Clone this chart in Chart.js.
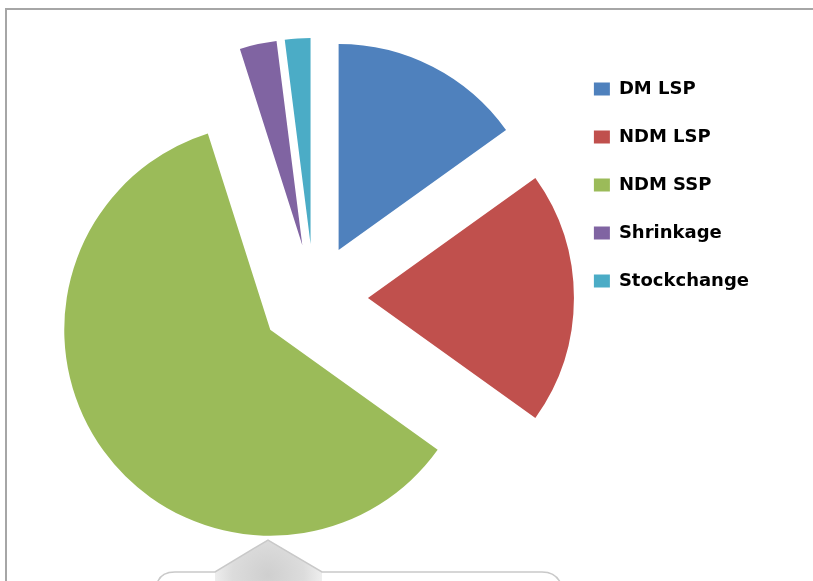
<!DOCTYPE html>
<html>
<head>
<meta charset="utf-8">
<script src="https://cdn.jsdelivr.net/npm/chart.js@4/dist/chart.umd.min.js"></script>
<style>
  html, body { margin: 0; padding: 0; background: #fff; overflow: hidden; }
  #wrap { position: relative; width: 813px; height: 581px; }
  #frame {
    position: absolute; left: 5px; top: 8px; width: 900px; height: 700px;
    border: 2px solid #a6a6a6; box-sizing: border-box;
  }
  #chart { position: absolute; left: 0; top: 0; }
  #callout { position: absolute; left: 0; top: 0; }
</style>
</head>
<body>
<div id="wrap">
  <div id="frame"></div>
  <canvas id="chart" width="813" height="581"></canvas>
  <svg id="callout" width="813" height="581">
    <defs>
      <radialGradient id="tri" cx="268" cy="575" r="60" gradientUnits="userSpaceOnUse">
        <stop offset="0" stop-color="#cfcfcf"/>
        <stop offset="0.6" stop-color="#dcdcdc"/>
        <stop offset="1" stop-color="#f4f4f4"/>
      </radialGradient>
    </defs>
    <path d="M215,572 L268,540 L322,572 L322,581 L215,581 Z" fill="url(#tri)"/>
    <path d="M157,584 Q160,572 175,572 L215,572 L268,540 L322,572 L542,572 Q556,572 561,584"
          fill="none" stroke="#c9c9c9" stroke-width="1.5"/>
  </svg>
</div>
<script>
// values (percent of total)
const labels = ['DM LSP', 'NDM LSP', 'NDM SSP', 'Shrinkage', 'Stockchange']
const values = [15.1, 19.8, 60.2, 2.9, 2.0]
const colors = ['#4F81BD', '#C0504D', '#9BBB59', '#8064A2', '#4BACC6']

const EXPLODE = 54

// push every slice out along its middle angle, same radius for all
const explode = {
    id: 'explode',
    afterDatasetsUpdate(chart) {
        chart.getDatasetMeta(0).data.forEach(arc => {
            const mid = (arc.startAngle + arc.endAngle) / 2
            arc.x += Math.cos(mid) * EXPLODE
            arc.y += Math.sin(mid) * EXPLODE
        })
    }
}

new Chart(document.getElementById('chart').getContext('2d'), {
    type: 'pie',
    data: {
        labels: labels,
        datasets: [{
            data: values,
            backgroundColor: colors,
            borderColor: colors,
            borderWidth: 0,
            clip: false
        }]
    },
    options: {
        responsive: false,
        animation: false,
        radius: 206,
        layout: { padding: { left: 64, right: 54, top: 50, bottom: 35 } },
        plugins: {
            legend: {
                position: 'right',
                align: 'start',
                labels: {
                    boxWidth: 16,
                    boxHeight: 13,
                    padding: 30,
                    color: '#000',
                    font: { family: 'DejaVu Sans', size: 18, weight: 'bold' }
                }
            },
            tooltip: { enabled: false }
        }
    },
    plugins: [explode]
})
</script>
</body>
</html>
